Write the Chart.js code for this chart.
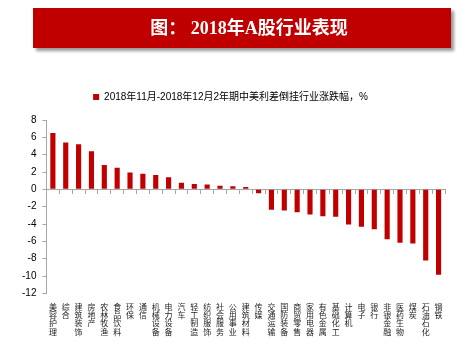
<!DOCTYPE html>
<html>
<head>
<meta charset="utf-8">
<script src="https://cdn.jsdelivr.net/npm/chart.js@4"></script>
<style>
  body { margin: 0; background: #fff; }
  #wrap { position: relative; width: 465px; height: 347px; }
  #title {
    position: absolute; left: 33px; top: 8px; width: 418px; height: 40px;
    background: #c00000; box-shadow: 3px 3px 3px #999;
    color: #fff; font: bold 18px "Liberation Serif", "Noto Sans CJK SC", serif;
    text-align: center; line-height: 40px; box-sizing: border-box;
  }
  #title span { position: relative; left: 7px; }
</style>
</head>
<body>
<div id="wrap">
  <canvas id="barChart" width="465" height="347"></canvas>
  <div id="title"><span>图：&nbsp;2018年A股行业表现</span></div>
</div>
<script>
// 行业与涨跌幅
const industries = ["美容护理", "综合", "建筑装饰", "房地产", "农林牧渔", "食品饮料", "环保", "通信",
  "机械设备", "电力设备", "汽车", "轻工制造", "纺织服饰", "社会服务", "公用事业", "建筑材料",
  "传媒", "交通运输", "国防装备", "商贸零售", "家用电器", "有色金属", "基础化工", "计算机",
  "电子", "银行", "非银金融", "医药生物", "煤炭", "石油石化", "钢铁"];
const changes = [6.5, 5.4, 5.2, 4.4, 2.8, 2.5, 1.95, 1.8, 1.65, 1.4, 0.75, 0.63, 0.55, 0.43, 0.36, 0.28,
  -0.45, -2.35, -2.45, -2.65, -2.9, -3.1, -3.15, -4.05, -4.3, -4.6, -5.75, -6.15, -6.25, -8.2, -9.85];
const yTicks = [-12, 8, 2]; // min, max, 步长
const seriesName = "2018年11月-2018年12月2年期中美利差倒挂行业涨跌幅，%";

const axisGray = "#a6a6a6";

// 图例下方多留一点空白
const legendGap = {
  id: 'legendGap',
  beforeInit(chart) {
    const fit = chart.legend.fit;
    chart.legend.fit = function () {
      fit.call(this);
      this.height += 8;
    };
  }
};

const ctx = document.getElementById('barChart').getContext('2d');
new Chart(ctx, {
  type: 'bar',
  data: {
    labels: industries.map(s => s.split('')),
    datasets: [{
      label: seriesName,
      data: changes,
      backgroundColor: "#c00000",
      barPercentage: 0.4,
      categoryPercentage: 1
    }]
  },
  options: {
    responsive: false,
    animation: false,
    layout: { padding: { top: 82, left: 16, right: 20, bottom: 2 } },
    plugins: {
      legend: {
        labels: {
          boxWidth: 6, boxHeight: 6, color: "#000",
          font: { size: 10, family: "'Liberation Sans', 'Noto Sans CJK SC', sans-serif" },
          padding: 10
        }
      },
      tooltip: { enabled: false }
    },
    scales: {
      x: {
        grid: { display: false, drawTicks: false },
        border: { display: false },
        ticks: {
          autoSkip: false, maxRotation: 0, minRotation: 0, padding: 9, color: "#222",
          font: { size: 8, family: "'Noto Sans CJK SC', sans-serif", lineHeight: 1.05 }
        }
      },
      xZero: {
        type: 'category',
        labels: industries,
        position: { y: 0 },
        grid: { offset: true, drawOnChartArea: false, tickLength: 4, color: axisGray },
        border: { color: axisGray },
        ticks: { display: false }
      },
      y: {
        min: yTicks[0], max: yTicks[1],
        ticks: { stepSize: yTicks[2], color: "#000", padding: 6,
          font: { size: 10, family: "'Liberation Sans', sans-serif" } },
        grid: { drawOnChartArea: false, tickLength: 4, color: axisGray },
        border: { color: axisGray }
      }
    }
  },
  plugins: [legendGap]
});
</script>
</body>
</html>
